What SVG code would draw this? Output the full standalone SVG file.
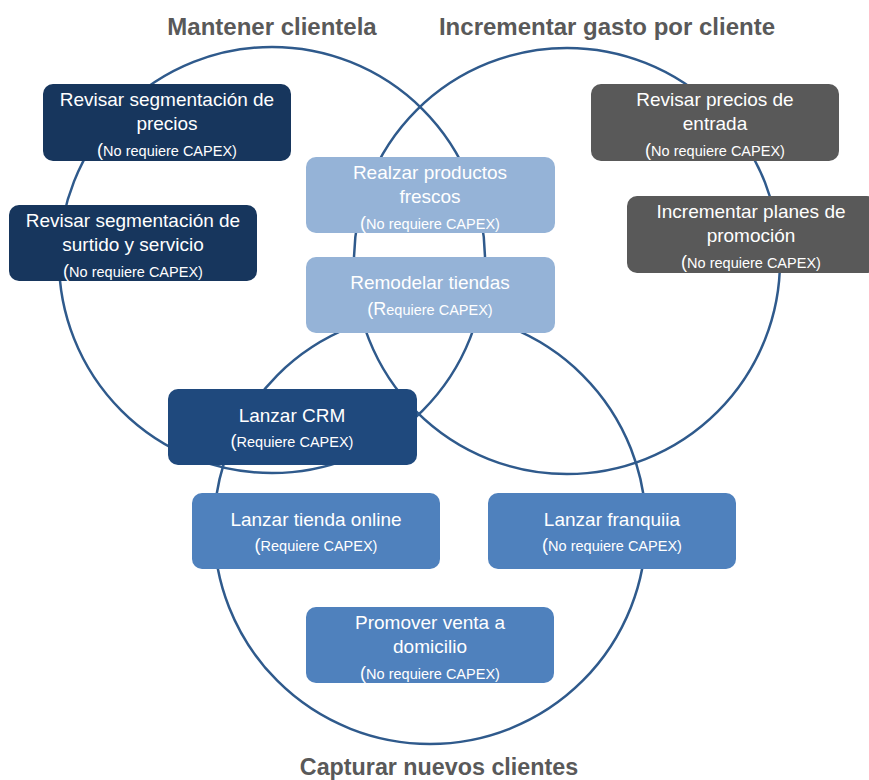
<svg xmlns="http://www.w3.org/2000/svg" width="869" height="780" viewBox="0 0 869 780">
<style>
.ring{fill:none;stroke:#2f5a8c;stroke-width:2.5}
.title{font-family:"Liberation Sans",Arial,sans-serif;font-weight:bold;font-size:24px;fill:#595959;text-anchor:middle}
.box{stroke:none}
.navy{fill:#17365d}
.crm{fill:#1f497d}
.light{fill:#95b3d7}
.gray{fill:#595959}
.mid{fill:#4f81bd}
.t{font-family:"Liberation Sans",Arial,sans-serif;font-size:19px;fill:#ffffff;text-anchor:middle}
.s{font-family:"Liberation Sans",Arial,sans-serif;font-size:14.5px;fill:#ffffff;text-anchor:middle}
.p{font-size:18px}
</style>
<rect width="869" height="780" fill="#ffffff"/>
<g id="sets">
  <g id="set-mantener">
    <circle class="ring" cx="272" cy="260" r="213"/>
    <text class="title" x="272" y="35">Mantener clientela</text>
  </g>
  <g id="set-incrementar">
    <circle class="ring" cx="567" cy="261" r="213"/>
    <text class="title" x="607" y="35">Incrementar gasto por cliente</text>
  </g>
  <g id="set-capturar">
    <circle class="ring" cx="430" cy="528" r="216"/>
    <text class="title" x="439" y="775" style="font-size:23.3px">Capturar nuevos clientes</text>
  </g>
</g>
<g id="connectors"></g>
<g id="n1">
  <rect class="box navy" x="43" y="84" width="248" height="77" rx="10"/>
  <text class="t" x="167" y="106">Revisar segmentación de</text>
  <text class="t" x="167" y="130">precios</text>
  <text class="s" x="167" y="156"><tspan class="p">(</tspan>No requiere CAPEX)</text>
</g>
<g id="n2">
  <rect class="box navy" x="9" y="205" width="248" height="76" rx="10"/>
  <text class="t" x="133" y="227">Revisar segmentación de</text>
  <text class="t" x="133" y="251">surtido y servicio</text>
  <text class="s" x="133" y="277"><tspan class="p">(</tspan>No requiere CAPEX)</text>
</g>
<g id="n3">
  <rect class="box light" x="306" y="157" width="249" height="76" rx="10"/>
  <text class="t" x="430" y="179">Realzar productos</text>
  <text class="t" x="430" y="203">frescos</text>
  <text class="s" x="430" y="229"><tspan class="p">(</tspan>No requiere CAPEX)</text>
</g>
<g id="n4">
  <rect class="box light" x="306" y="257" width="249" height="76" rx="10"/>
  <text class="t" x="430" y="289">Remodelar tiendas</text>
  <text class="s" x="430" y="315"><tspan class="p">(R</tspan>equiere CAPEX)</text>
</g>
<g id="n5">
  <rect class="box gray" x="591" y="84" width="248" height="77" rx="10"/>
  <text class="t" x="715" y="106">Revisar precios de</text>
  <text class="t" x="715" y="130">entrada</text>
  <text class="s" x="715" y="156"><tspan class="p">(</tspan>No requiere CAPEX)</text>
</g>
<g id="n6">
  <rect class="box gray" x="627" y="196" width="250" height="77" rx="10"/>
  <text class="t" x="751" y="218">Incrementar planes de</text>
  <text class="t" x="751" y="242">promoción</text>
  <text class="s" x="751" y="268"><tspan class="p">(</tspan>No requiere CAPEX)</text>
</g>
<g id="n7">
  <rect class="box crm" x="168" y="389" width="249" height="76" rx="10"/>
  <text class="t" x="292" y="422">Lanzar CRM</text>
  <text class="s" x="292" y="447"><tspan class="p">(</tspan>Requiere CAPEX)</text>
</g>
<g id="n8">
  <rect class="box mid" x="192" y="493" width="248" height="76" rx="10"/>
  <text class="t" x="316" y="526">Lanzar tienda online</text>
  <text class="s" x="316" y="551"><tspan class="p">(</tspan>Requiere CAPEX)</text>
</g>
<g id="n9">
  <rect class="box mid" x="488" y="493" width="248" height="76" rx="10"/>
  <text class="t" x="612" y="526">Lanzar franquiia</text>
  <text class="s" x="612" y="551"><tspan class="p">(</tspan>No requiere CAPEX)</text>
</g>
<g id="n10">
  <rect class="box mid" x="306" y="607" width="248" height="76" rx="10"/>
  <text class="t" x="430" y="629">Promover venta a</text>
  <text class="t" x="430" y="653">domicilio</text>
  <text class="s" x="430" y="679"><tspan class="p">(</tspan>No requiere CAPEX)</text>
</g>
</svg>
